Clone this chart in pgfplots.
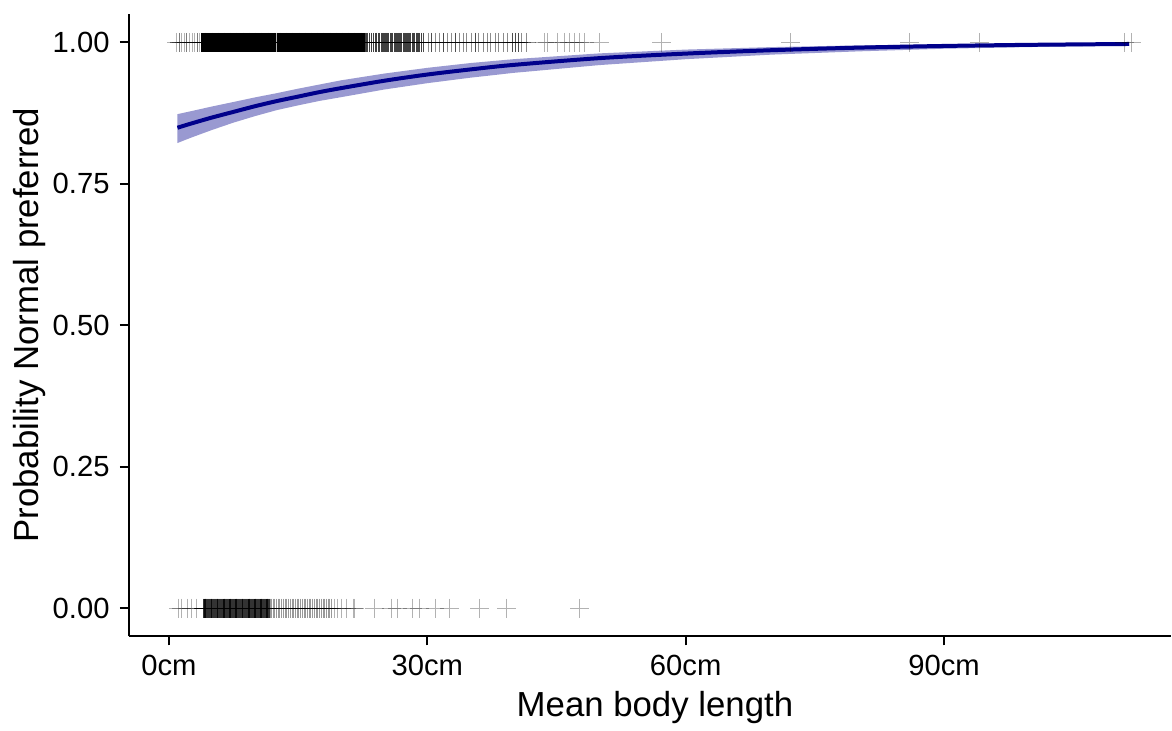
\documentclass[border=0pt]{standalone}
\usepackage{fontspec}
\setmainfont{Liberation Sans}
\usepackage{pgfplots}
\pgfplotsset{compat=1.18}
\definecolor{lineblue}{RGB}{0,0,139}
\begin{document}
\begin{tikzpicture}
\begin{axis}[
  name=ax, scale only axis, width=521.5pt, height=311.5pt,
  xmin=-4.64, xmax=116.35, ymin=-0.05, ymax=1.05,
  axis lines*=left, axis line style={line width=1pt, black, -},
  xtick={0,30,60,90}, xticklabels={0cm,30cm,60cm,90cm},
  ytick={0,0.25,0.5,0.75,1}, yticklabels={0.00,0.25,0.50,0.75,1.00},
  tick align=outside, major tick length=4.5pt, tick style={line width=1pt, black},
  ticklabel style={font=\fontsize{14.6}{17}\selectfont, black},
  xticklabel style={anchor=base, yshift=-15pt},
  yticklabel style={anchor=east, inner sep=0pt, xshift=-5pt},
  xlabel={Mean body length}, ylabel={Probability Normal preferred},
  every axis x label/.style={at={(axis description cs:0.5,0)}, anchor=base, yshift=-40pt, xshift=2.5pt, font=\fontsize{17.4}{20}\selectfont},
  every axis y label/.style={at={(axis description cs:0,0.5)}, anchor=center, rotate=90, yshift=49.75pt, font=\fontsize{17.4}{20}\selectfont},
  /pgf/number format/assume math mode=true,
  clip=false,
]
% sparse observations, y = 1
\addplot[only marks, mark=+, mark size=4.75pt, mark options={line width=0.5pt}, black, opacity=0.3] coordinates {
(0.9,1)(1.2,1)(1.2,1)(1.5,1)(1.8,1)(2.1,1)(2.1,1)(2.4,1)(2.7,1)(3.0,1)(3.3,1)(3.3,1)(3.6,1)(12.5,1)
(43.6,1)(44.0,1)(45.1,1)(45.9,1)
(46.5,1)(47.1,1)(47.7,1)(48.3,1)(50.0,1)(57.2,1)(72.2,1)(86.0,1)(94.1,1)(110.9,1)(111.8,1)
};
% moderate density, y = 1
\addplot[only marks, mark=+, mark size=4.75pt, mark options={line width=0.5pt}, black, opacity=0.45] coordinates {
(29.6,1)(29.6,1)(30.1,1)(30.5,1)(30.5,1)(31.0,1)(31.4,1)(31.9,1)(31.9,1)(32.3,1)(32.8,1)(33.3,1)(33.3,1)
(33.7,1)(34.2,1)(34.6,1)(35.1,1)(35.6,1)(35.6,1)(36.0,1)(36.5,1)(37.0,1)(37.4,1)(37.9,1)(38.3,1)(38.8,1)
(39.3,1)(39.9,1)(39.9,1)(40.2,1)(40.2,1)(40.6,1)(40.6,1)(41.0,1)(41.5,1)
};
% medium density, y = 1
\addplot[only marks, mark=+, mark size=4.75pt, mark options={line width=0.55pt}, black, opacity=0.75] coordinates {
(22.8,1)(22.95,1)(23.1,1)(23.3,1)(23.55,1)(23.8,1)(24.05,1)(24.3,1)(24.5,1)(24.65,1)(24.8,1)(24.95,1)(25.1,1)
(25.25,1)(25.4,1)(25.55,1)(25.7,1)(25.85,1)(26.0,1)(26.15,1)(26.3,1)(26.45,1)(26.6,1)(26.75,1)(26.9,1)
(27.05,1)(27.2,1)(27.35,1)(27.5,1)(27.65,1)(27.8,1)(27.95,1)(28.1,1)(28.25,1)(28.4,1)(28.55,1)(28.7,1)
(28.85,1)(29.0,1)(29.15,1)(29.3,1)
};
% high density, y = 1
\addplot[only marks, mark=+, mark size=4.75pt, mark options={line width=0.6pt}, black, opacity=1] coordinates {
(3.8,1)(3.9,1)(4.0,1)(4.1,1)(4.2,1)(4.3,1)(4.4,1)(4.5,1)(4.6,1)(4.7,1)(4.8,1)(4.9,1)
(5.0,1)(5.1,1)(5.2,1)(5.3,1)(5.4,1)(5.5,1)(5.6,1)(5.7,1)(5.8,1)(5.9,1)
(6.0,1)(6.1,1)(6.2,1)(6.3,1)(6.4,1)(6.5,1)(6.6,1)(6.7,1)(6.8,1)(6.9,1)
(7.0,1)(7.1,1)(7.2,1)(7.3,1)(7.4,1)(7.5,1)(7.6,1)(7.7,1)(7.8,1)(7.9,1)
(8.0,1)(8.1,1)(8.2,1)(8.3,1)(8.4,1)(8.5,1)(8.6,1)(8.7,1)(8.8,1)(8.9,1)
(9.0,1)(9.1,1)(9.2,1)(9.3,1)(9.4,1)(9.5,1)(9.6,1)(9.7,1)(9.8,1)(9.9,1)
(10.0,1)(10.1,1)(10.2,1)(10.3,1)(10.4,1)(10.5,1)(10.6,1)(10.7,1)(10.8,1)(10.9,1)
(11.0,1)(11.1,1)(11.2,1)(11.3,1)(11.4,1)(11.5,1)(11.6,1)(11.7,1)(11.8,1)(11.9,1)
(12.0,1)(12.1,1)(12.2,1)(12.3,1)(12.4,1)(12.6,1)(12.7,1)(12.8,1)(12.9,1)
(13.0,1)(13.1,1)(13.2,1)(13.3,1)(13.4,1)(13.5,1)(13.6,1)(13.7,1)(13.8,1)(13.9,1)
(14.0,1)(14.1,1)(14.2,1)(14.3,1)(14.4,1)(14.5,1)(14.6,1)(14.7,1)(14.8,1)(14.9,1)
(15.0,1)(15.1,1)(15.2,1)(15.3,1)(15.4,1)(15.5,1)(15.6,1)(15.7,1)(15.8,1)(15.9,1)
(16.0,1)(16.1,1)(16.2,1)(16.3,1)(16.4,1)(16.5,1)(16.6,1)(16.7,1)(16.8,1)(16.9,1)
(17.0,1)(17.1,1)(17.2,1)(17.3,1)(17.4,1)(17.5,1)(17.6,1)(17.7,1)(17.8,1)(17.9,1)
(18.0,1)(18.1,1)(18.2,1)(18.3,1)(18.4,1)(18.5,1)(18.6,1)(18.7,1)(18.8,1)(18.9,1)
(19.0,1)(19.1,1)(19.2,1)(19.3,1)(19.4,1)(19.5,1)(19.6,1)(19.7,1)(19.8,1)(19.9,1)
(20.0,1)(20.1,1)(20.2,1)(20.3,1)(20.4,1)(20.5,1)(20.6,1)(20.7,1)(20.8,1)(20.9,1)
(21.0,1)(21.1,1)(21.2,1)(21.3,1)(21.4,1)(21.5,1)(21.6,1)(21.7,1)(21.8,1)(21.9,1)
(22.0,1)(22.1,1)(22.2,1)(22.3,1)(22.4,1)(22.5,1)(22.6,1)(22.7,1)
};
% sparse observations, y = 0
\addplot[only marks, mark=+, mark size=4.75pt, mark options={line width=0.5pt}, black, opacity=0.3] coordinates {
(1.1,0)(1.5,0)(2.2,0)(2.6,0)(3.2,0)(19.2,0)(19.6,0)(20.1,0)(20.6,0)(21.4,0)(21.6,0)(23.9,0)
(25.9,0)(26.6,0)(28.3,0)(29.1,0)(30.9,0)(32.6,0)(36.1,0)(39.2,0)(47.7,0)
};
% medium density, y = 0
\addplot[only marks, mark=+, mark size=4.75pt, mark options={line width=0.5pt}, black, opacity=0.4] coordinates {
(11.8,0)(11.95,0)(12.1,0)(12.3,0)(12.5,0)(12.7,0)(12.9,0)(13.1,0)(13.3,0)(13.5,0)(13.7,0)(13.9,0)(14.1,0)
(14.3,0)(14.5,0)(14.7,0)(14.9,0)(15.1,0)(15.3,0)(15.5,0)(15.7,0)(15.9,0)(16.1,0)(16.3,0)(16.5,0)
(16.7,0)(16.9,0)(17.1,0)(17.3,0)(17.5,0)(17.7,0)(17.9,0)(18.1,0)(18.3,0)(18.5,0)(18.7,0)(18.9,0)
};
% high density, y = 0
\addplot[only marks, mark=+, mark size=4.75pt, mark options={line width=0.55pt}, black, opacity=0.8] coordinates {
(4.0,0)(4.1,0)(4.2,0)(4.3,0)(4.4,0)(4.5,0)(4.6,0)(4.7,0)(4.8,0)(4.9,0)
(5.0,0)(5.1,0)(5.2,0)(5.3,0)(5.4,0)(5.5,0)(5.6,0)(5.7,0)(5.8,0)(5.9,0)
(6.0,0)(6.1,0)(6.2,0)(6.3,0)(6.4,0)(6.5,0)(6.6,0)(6.7,0)(6.8,0)(6.9,0)
(7.0,0)(7.1,0)(7.2,0)(7.3,0)(7.4,0)(7.5,0)(7.6,0)(7.7,0)(7.8,0)(7.9,0)
(8.0,0)(8.1,0)(8.2,0)(8.3,0)(8.4,0)(8.5,0)(8.6,0)(8.7,0)(8.8,0)(8.9,0)
(9.0,0)(9.1,0)(9.2,0)(9.3,0)(9.4,0)(9.5,0)(9.6,0)(9.7,0)(9.8,0)(9.9,0)
(10.0,0)(10.1,0)(10.2,0)(10.3,0)(10.4,0)(10.5,0)(10.6,0)(10.7,0)(10.8,0)(10.9,0)
(11.0,0)(11.1,0)(11.2,0)(11.3,0)(11.4,0)(11.5,0)(11.6,0)(11.7,0)
};
% confidence band
\addplot[draw=none, fill=lineblue, fill opacity=0.4] coordinates {
(1.0,0.873)(2.5,0.878)(5,0.8865)(7.5,0.8945)(10,0.9026)(12.5,0.910)(15,0.9180)(17.5,0.9254)
(20,0.9328)(25,0.9447)(30,0.9548)(35,0.9633)(40,0.9701)(50,0.9804)(60,0.9871)(70,0.9915)
(80,0.9945)(90,0.9962)(100,0.9976)(111.5,0.9985)
(111.5,0.9942)(100,0.9916)(90,0.9886)(80,0.9839)(70,0.9782)(60,0.9701)(50,0.9597)(40,0.9459)
(35,0.9374)(30,0.9277)(25,0.9165)(20,0.9030)(17.5,0.8964)(15,0.8885)(12.5,0.880)(10,0.8695)
(7.5,0.858)(5,0.845)(2.5,0.831)(1.0,0.822)
} -- cycle;
% fitted curve
\addplot[lineblue, line width=2pt, smooth] coordinates {
(1.0,0.849)(2.5,0.856)(5,0.867)(7.5,0.877)(10,0.887)(12.5,0.896)(15,0.904)(17.5,0.912)
(20,0.919)(25,0.932)(30,0.943)(35,0.952)(40,0.960)(50,0.972)(60,0.980)(70,0.986)
(80,0.9905)(90,0.9935)(100,0.9955)(111.5,0.997)
};
\end{axis}
\path[use as bounding box] ([xshift=-64.5pt,yshift=-43pt]ax.south west) rectangle ([yshift=7pt]ax.north east);
\end{tikzpicture}
\end{document}
